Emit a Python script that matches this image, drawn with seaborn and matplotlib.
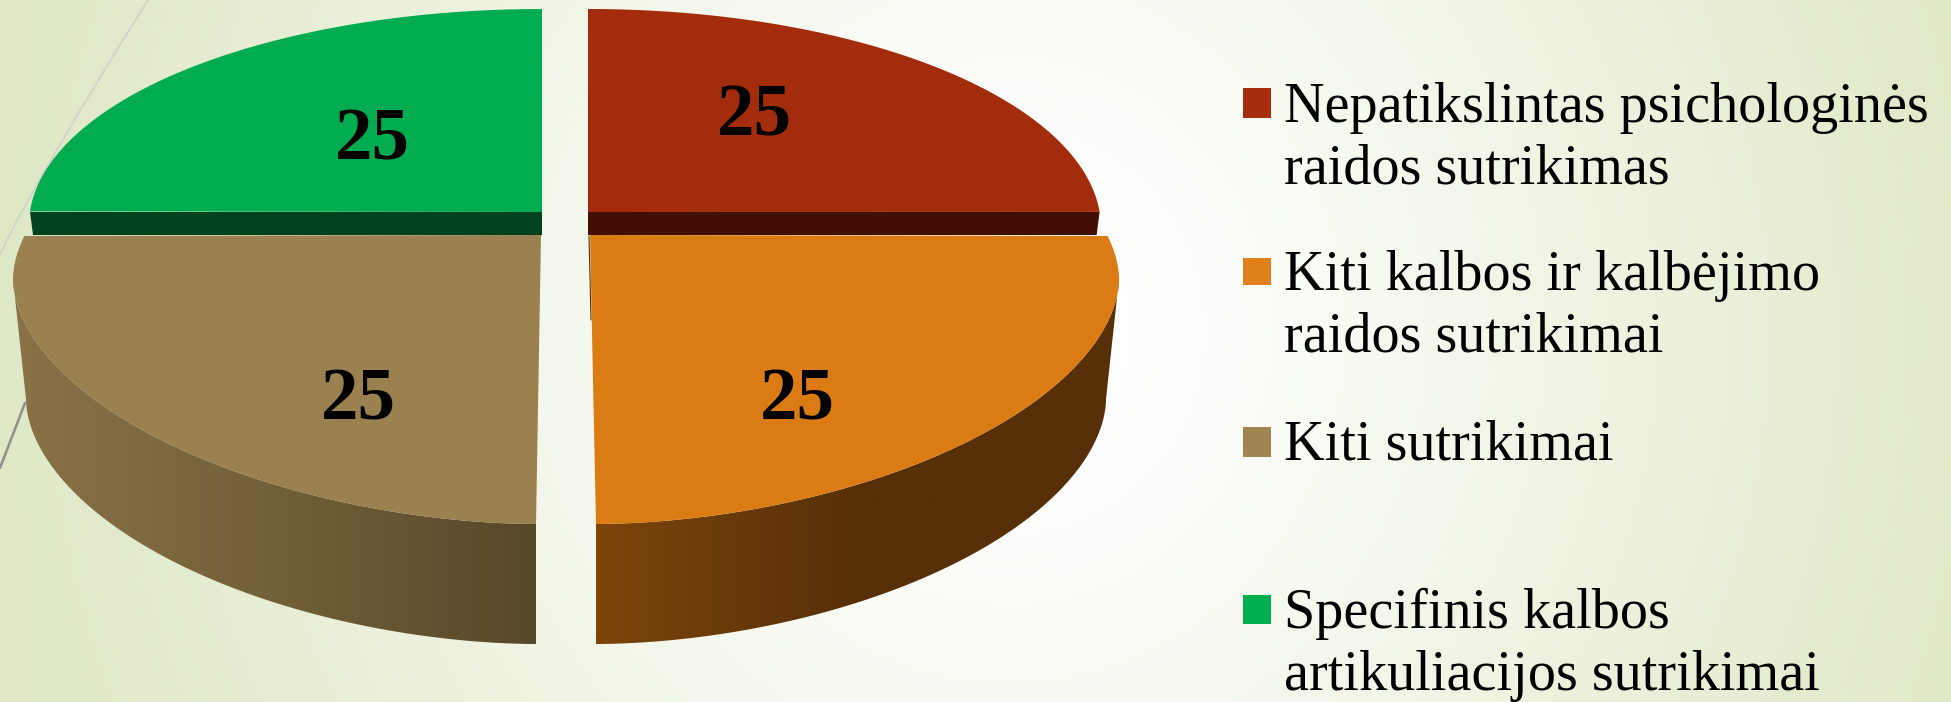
import numpy as np
import matplotlib
matplotlib.use("Agg")
import matplotlib.pyplot as plt
from matplotlib.colors import LinearSegmentedColormap
from matplotlib.patches import Polygon, Rectangle
import seaborn as sns

# ---- data ----
categories = [
    "Nepatikslintas psichologinės\nraidos sutrikimas",
    "Kiti kalbos ir kalbėjimo\nraidos sutrikimai",
    "Kiti sutrikimai",
    "Specifinis kalbos\nartikuliacijos sutrikimai",
]
values = [25, 25, 25, 25]

# ---- styles ----
top_colors = sns.color_palette(["#A22C0B", "#DB7B14", "#9B8050", "#00AC4F"])
band_colors = {0: "#420F05", 3: "#00421E"}
side_colors = {1: ["#7C450B", "#572F08", "#572F08"], 2: ["#8A7248", "#726038", "#57482A"]}
legend_colors = ["#A62D0D", "#E0801A", "#A08552", "#00AE50"]

# ---- layout (pixels) ----
W, H = 1951, 702
CUT_BACK, CUT_FRONT = 212, 235
DEPTH_BOTTOM = 399
RIM_RX = 510
geom = [
    dict(cx=588, cy=228, rx=513, ry=219, edge=588, n=2.0),
    dict(cx=596, cy=279, rx=523, ry=245, edge=590, n=1.85),
    dict(cx=536, cy=279, rx=523, ry=245, edge=541, n=1.85),
    dict(cx=542, cy=225, rx=513, ry=216, edge=542, n=2.0),
]
label_pos = [(754, 118), (797, 401), (358, 401), (372, 142)]
legend_rows = [(88, 118, 122), (258, 285, 290), (427, 457, 459), (595, 624, 628)]
LINE_STEP = 62

sns.set_theme(style="white")
plt.rcParams["font.family"] = ["Liberation Serif", "DejaVu Serif"]

fig = plt.figure(figsize=(W / 100, H / 100), dpi=100)
ax = fig.add_axes([0, 0, 1, 1])

# background: soft radial wash
yy, xx = np.mgrid[0:H:2, 0:W:2]
r = np.hypot((xx - 1010) / 1000, (yy - 330) / 1050)
t = np.clip((r - 0.12) / 0.88, 0, 1) ** 1.1
bg_white = np.array([1.0, 1.0, 1.0])
bg_edge = np.array([0xDF, 0xE8, 0xC6]) / 255
ax.imshow(bg_white + (bg_edge - bg_white) * t[..., None], extent=(0, W, H, 0),
          aspect="auto", zorder=0)

# faint decorative strokes behind the pie
deco_y = np.linspace(0, 255, 40)
ax.plot(148 * (1 - deco_y / 255) ** 1.08, deco_y, color="#D2D3C6", lw=1.3, zorder=1)
ax.plot([25, 0], [403, 468], color="#8F8F88", lw=1.8, zorder=1)


def arc(g, a0, a1, rx=None, cy=None):
    """Points of a slice's rim between two pie angles (a superellipse in pixels)."""
    rx = g["rx"] if rx is None else rx
    cy = g["cy"] if cy is None else cy
    e = 2.0 / g["n"]
    th = np.radians(np.linspace(a0, a1, 300))
    c, s = np.cos(th), np.sin(th)
    x = g["cx"] + rx * np.sign(c) * np.abs(c) ** e
    y = cy - g["ry"] * np.sign(s) * np.abs(s) ** e
    return x, y


total = sum(values)
start = 90.0
for i, (val, g) in enumerate(zip(values, geom)):
    sweep = 360.0 * val / total
    a0, a1 = start, start - sweep
    start = a1
    mid = np.radians((a0 + a1) / 2)
    right = np.cos(mid) > 0
    if np.sin(mid) > 0:  # rear slice: flat dark cut face under the top surface
        x, y = arc(g, a0, a1)
        keep = y <= CUT_BACK
        x, y = x[keep], y[keep]
        ax.add_patch(Polygon([(g["edge"], CUT_BACK), *zip(x, y)], closed=True,
                             fc=top_colors[i], ec="none", zorder=3))
        outer = x[np.argmax(y)]
        inward = -3 if right else 3
        ax.add_patch(Polygon([(g["edge"], CUT_BACK), (outer, CUT_BACK),
                              (outer + inward, CUT_FRONT), (g["edge"], CUT_FRONT)],
                             closed=True, fc=band_colors[i], ec="none", zorder=3))
    else:  # front slice: extruded rim with a horizontal shade
        # rim spans the slice's own angles, from the top ellipse to the lower one
        tx, ty = arc(g, a0, a1)
        bx, by = arc(g, a0, a1, rx=RIM_RX, cy=DEPTH_BOTTOM)
        pts = [*zip(tx, ty), *zip(bx[::-1], by[::-1])]
        side = Polygon(pts, closed=True, fc="none", ec="none")
        ax.add_patch(side)
        px = np.array([p[0] for p in pts])
        py = np.array([p[1] for p in pts])
        cmap = LinearSegmentedColormap.from_list(f"rim{i}", side_colors[i])
        grad = np.linspace(0, 1, 256)[None, :]
        im = ax.imshow(grad, cmap=cmap, extent=(px.min(), px.max(), py.max(), py.min()),
                       aspect="auto", zorder=2)
        im.set_clip_path(side)
        # top surface: carry the outer end of the arc up to the flat cut line
        if right:
            x, y = arc(g, a0 + 25, a1)
        else:
            x, y = arc(g, a0, a1 - 25)
        keep = y >= CUT_FRONT
        x, y = x[keep], y[keep]
        ax.add_patch(Polygon([(g["edge"], CUT_FRONT), *zip(x, y)], closed=True,
                             fc=top_colors[i], ec="none", zorder=3))

    lx, ly = label_pos[i]
    ax.text(lx, ly, str(val), ha="center", va="center", fontsize=54,
            fontweight="bold", color="black", zorder=5)

# thin dark sliver along the orange slice's inner edge
ax.plot([589, 591], [236, 320], color="#5A3208", lw=0.8, zorder=4)

# legend
for name, col, (y0, y1, base) in zip(categories, legend_colors, legend_rows):
    ax.add_patch(Rectangle((1243, y0), 28, y1 - y0, fc=col, ec="none", zorder=4))
    for k, line in enumerate(name.split("\n")):
        ax.text(1284, base + k * LINE_STEP, line, ha="left", va="baseline",
                fontsize=40.5, color="black", zorder=5)

ax.set_xlim(0, W)
ax.set_ylim(H, 0)
ax.axis("off")
fig.savefig("out.png", dpi=100)
